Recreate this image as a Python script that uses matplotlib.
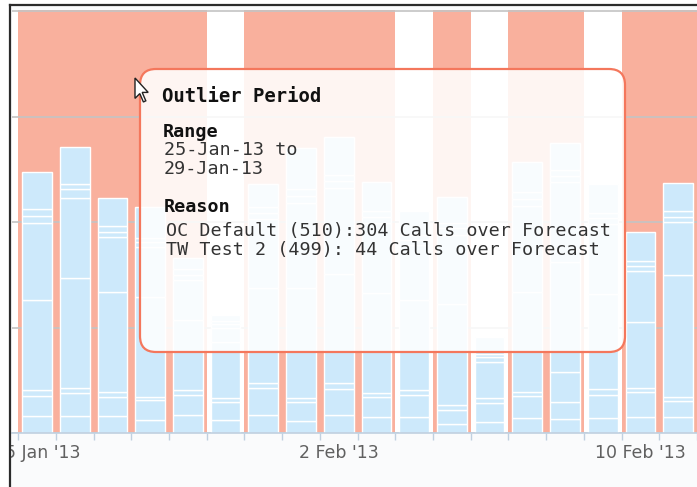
import numpy as np
import matplotlib
matplotlib.use("Agg")
import matplotlib.pyplot as plt
import matplotlib.patches as patches
import matplotlib.transforms as mtransforms
from matplotlib.lines import Line2D

# dias de la grafica (25 Jan - 11 Feb 2013)
dias = np.arange(np.datetime64('2013-01-25'), np.datetime64('2013-02-12'))
etiquetas = ["25 Jan '13", "2 Feb '13", "10 Feb '13"]
pos_etiquetas = [0, 8, 16]
# 1 = dia dentro de un periodo atipico (banda roja)
atipico = [1, 1, 1, 1, 1, 0, 1, 1, 1, 1, 0, 1, 0, 1, 1, 0, 1, 1]

# series apiladas, de abajo hacia arriba
s1 = [16, 16, 16, 12, 17, 12, 17, 11, 17, 15, 15, 9, 10, 14, 13, 14, 15, 15]
s2 = [19, 22, 18, 19, 19, 17, 26, 18, 25, 19, 21, 13, 18, 21, 16, 22, 24, 15]
s3 = [6, 5, 5, 3, 5, 4, 4, 4, 5, 4, 5, 5, 5, 4, 29, 6, 4, 4]
s4 = [85, 104, 95, 95, 66, 53, 90, 104, 104, 95, 85, 95, 34, 95, 104, 90, 62, 116]
s5 = [73, 76, 52, 47, 38, 14, 66, 81, 81, 66, 52, 66, 5, 81, 76, 66, 49, 50]
s6 = [7, 8, 5, 5, 5, 3, 6, 7, 7, 6, 5, 6, 3, 7, 6, 6, 4, 5]
s7 = [6, 5, 5, 4, 5, 3, 5, 6, 6, 5, 5, 5, 3, 6, 5, 5, 5, 5]
s8 = [35, 35, 27, 29, 11, 6, 22, 39, 36, 28, 22, 25, 13, 29, 26, 27, 28, 27]

titulo = "Outlier Period"
rango = ["25-Jan-13 to", "29-Jan-13"]
razones = ["OC Default (510):304 Calls over Forecast",
           "TW Test 2 (499): 44 Calls over Forecast"]

W, H = 697, 487
fig = plt.figure(figsize=(W / 100, H / 100), dpi=100)
fig.patch.set_facecolor('white')
ident = mtransforms.IdentityTransform()

# fondo de la ventana (captura de pantalla)
fig.add_artist(patches.Rectangle((10, 0), W, H - 5, transform=ident,
                                 facecolor='#fafbfc', edgecolor='none', zorder=-5))

ax = fig.add_axes([12 / W, 1 - 433 / H, 685 / W, 423 / H])
ax.set_facecolor('white')
x = np.arange(len(dias))

# bandas de periodos atipicos (se juntan los dias seguidos)
i = 0
while i < len(atipico):
    if atipico[i]:
        j = i
        while j + 1 < len(atipico) and atipico[j + 1]:
            j += 1
        ax.axvspan(i - 0.5, j + 0.5, color='#f9b09d', lw=0, zorder=0.2)
        i = j + 1
    else:
        i += 1

base = np.zeros(len(x))
for s in [s1, s2, s3, s4, s5, s6, s7, s8]:
    ax.bar(x, s, bottom=base, width=0.79, color='#cde9fb',
           edgecolor='white', linewidth=1.0, zorder=2)
    base += np.array(s)

ax.set_xlim(-0.662, 17.48)
ax.set_ylim(0, 401)
ax.set_yticks([0, 100, 200, 300, 400])
ax.set_axisbelow(True)
ax.yaxis.grid(True, color='#c4c4c4', linewidth=1.2)
ax.tick_params(axis='y', length=0, labelleft=False)

ax.set_xticks(pos_etiquetas, etiquetas)
ax.set_xticks(np.arange(-0.5, 18, 1), minor=True)
ax.tick_params(axis='x', which='major', length=0, pad=8, labelsize=12.5,
               labelcolor='#606060')
ax.tick_params(axis='x', which='minor', length=5, width=1, color='#c0d0e0')
for lado in ['left', 'right', 'top']:
    ax.spines[lado].set_visible(False)
ax.spines['bottom'].set_color('#c0d0e0')
ax.spines['bottom'].set_linewidth(1.2)

# tooltip
caja = patches.FancyBboxPatch((140, H - 352), 485, 283,
                              boxstyle='round,pad=0,rounding_size=16',
                              transform=ident, facecolor=(1, 1, 1, 0.88),
                              edgecolor='#f4775c', linewidth=1.6, zorder=10)
fig.add_artist(caja)

mono = 'DejaVu Sans Mono'
fig.text(162 / W, 1 - 97 / H, titulo, family=mono, weight='bold', size=13.6,
         va='center', color='#111111', zorder=11)
fig.text(163 / W, 1 - 132 / H, "Range", family=mono, weight='bold', size=13.2,
         va='center', color='#111111', zorder=11)
for k, linea in enumerate(rango):
    fig.text(164 / W, 1 - (150 + 19 * k) / H, linea, family=mono, size=13.2,
             va='center', color='#333333', zorder=11)
fig.text(164 / W, 1 - 207 / H, "Reason", family=mono, weight='bold', size=13.2,
         va='center', color='#111111', zorder=11)
for k, linea in enumerate(razones):
    fig.text(166 / W, 1 - (231 + 19 * k) / H, linea, family=mono, size=13.2,
             va='center', color='#333333', zorder=11)

# puntero del raton
flecha = np.array([[0, 0], [0, 17], [4, 13], [7, 20], [9, 19], [6, 12], [11, 12]]) * 1.2
flecha = np.column_stack([135 + flecha[:, 0], H - (78 + flecha[:, 1])])
fig.add_artist(patches.Polygon(flecha, closed=True, transform=ident,
                               facecolor='white', edgecolor='#222222',
                               linewidth=1, zorder=12))

# fuera de la ventana: blanco (recorta la etiqueta de la izquierda)
fig.add_artist(patches.Rectangle((0, 0), 10, H, transform=ident,
                                 facecolor='white', edgecolor='none', zorder=12.5))
fig.add_artist(patches.Rectangle((0, H - 5), W, 5, transform=ident,
                                 facecolor='white', edgecolor='none', zorder=12.5))

# borde de la ventana
fig.add_artist(Line2D([10 / W, 10 / W], [0, 1 - 5 / H], color='#2b2b2b',
                      linewidth=1.6, transform=fig.transFigure, zorder=13))
fig.add_artist(Line2D([10 / W, 1], [1 - 5 / H, 1 - 5 / H], color='#2b2b2b',
                      linewidth=1.6, transform=fig.transFigure, zorder=13))

fig.savefig('out.png', dpi=100)
